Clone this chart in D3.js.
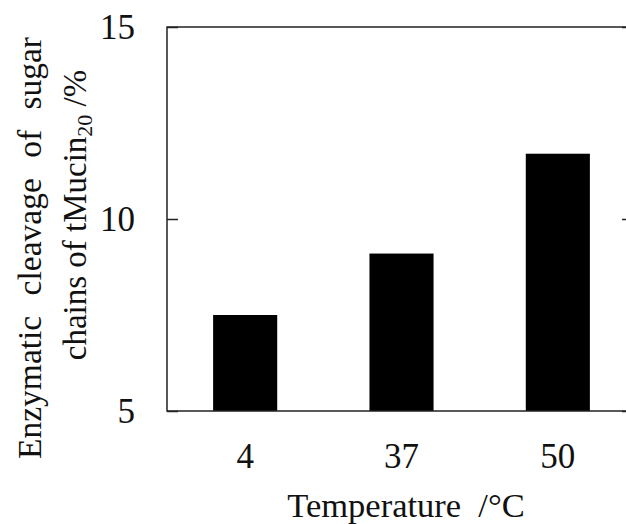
<!DOCTYPE html>
<html>
<head>
<meta charset="utf-8">
<script src="https://cdn.jsdelivr.net/npm/d3@7"></script>
<style>
  html, body { margin: 0; padding: 0; background: #fff; }
  svg { display: block; }
  svg text { font-family: "Liberation Serif", "Times New Roman", Times, "DejaVu Serif", serif !important; }
</style>
</head>
<body>
<svg id="chart" width="626" height="524"></svg>
<script>
const categories = ["4", "37", "50"];
const values = [7.5, 9.1, 11.7];
const yTicks = [5, 10, 15];
const xTitle = "Temperature  /\u00B0C";
const yTitleLine1 = "Enzymatic cleavage of sugar";

(function () {
const svg = d3.select("#chart");
const pL = 167, pR = 636, pT = 27, pB = 411;

const x = d3.scaleBand().domain(categories).range([pL, pR])
  .paddingInner(0.59).paddingOuter(0.295);
const y = d3.scaleLinear().domain([5, 15]).range([pB, pT]);

// bars
svg.append("g").selectAll("rect").data(values).join("rect")
  .attr("x", (d, i) => x(categories[i]))
  .attr("y", d => y(d))
  .attr("width", x.bandwidth())
  .attr("height", d => y(5) - y(d))
  .attr("fill", "#000");

// frame
svg.append("rect")
  .attr("x", pL).attr("y", pT)
  .attr("width", pR - pL).attr("height", pB - pT)
  .attr("fill", "none").attr("stroke", "#222").attr("stroke-width", 1.5);

// left axis
const yAxis = svg.append("g").attr("transform", `translate(${pL},0)`)
  .call(d3.axisLeft(y).tickValues(yTicks).tickSize(-11).tickPadding(32).tickFormat(d3.format("d")));
yAxis.select(".domain").remove();
yAxis.selectAll(".tick line").attr("stroke", "#222").attr("stroke-width", 1.5);
yAxis.selectAll(".tick text").attr("font-size", 35).attr("fill", "#111");

// right axis (ticks only)
const yAxisR = svg.append("g").attr("transform", `translate(${pR},0)`)
  .call(d3.axisRight(y).tickValues(yTicks).tickSize(-14).tickFormat(""));
yAxisR.select(".domain").remove();
yAxisR.selectAll(".tick line").attr("stroke", "#222").attr("stroke-width", 1.5);

// bottom axis labels
const xAxis = svg.append("g").attr("transform", `translate(0,${pB})`)
  .call(d3.axisBottom(x).tickSize(0).tickPadding(32));
xAxis.select(".domain").remove();
xAxis.selectAll(".tick text").attr("font-size", 35).attr("fill", "#111");

// x title
svg.append("text")
  .attr("x", 406).attr("y", 517)
  .attr("text-anchor", "middle")
  .attr("font-size", 34.5)
  .attr("fill", "#111")
  .style("white-space", "pre")
  .text(xTitle);

// y title line 1
svg.append("text")
  .attr("transform", "translate(41,248) rotate(-90)")
  .attr("text-anchor", "middle")
  .attr("font-size", 33.5)
  .attr("fill", "#111")
  .style("word-spacing", "12px")
  .text(yTitleLine1);

// y title line 2 with subscript
const t2 = svg.append("text")
  .attr("transform", "translate(86,215) rotate(-90)")
  .attr("text-anchor", "middle")
  .attr("font-size", 33)
  .attr("fill", "#111")
  .style("white-space", "pre");
t2.append("tspan").text("chains of tMucin");
t2.append("tspan").attr("font-size", 22).attr("dy", 6).text("20");
t2.append("tspan").attr("dy", -6).text(" /%");
})();
</script>
</body>
</html>
